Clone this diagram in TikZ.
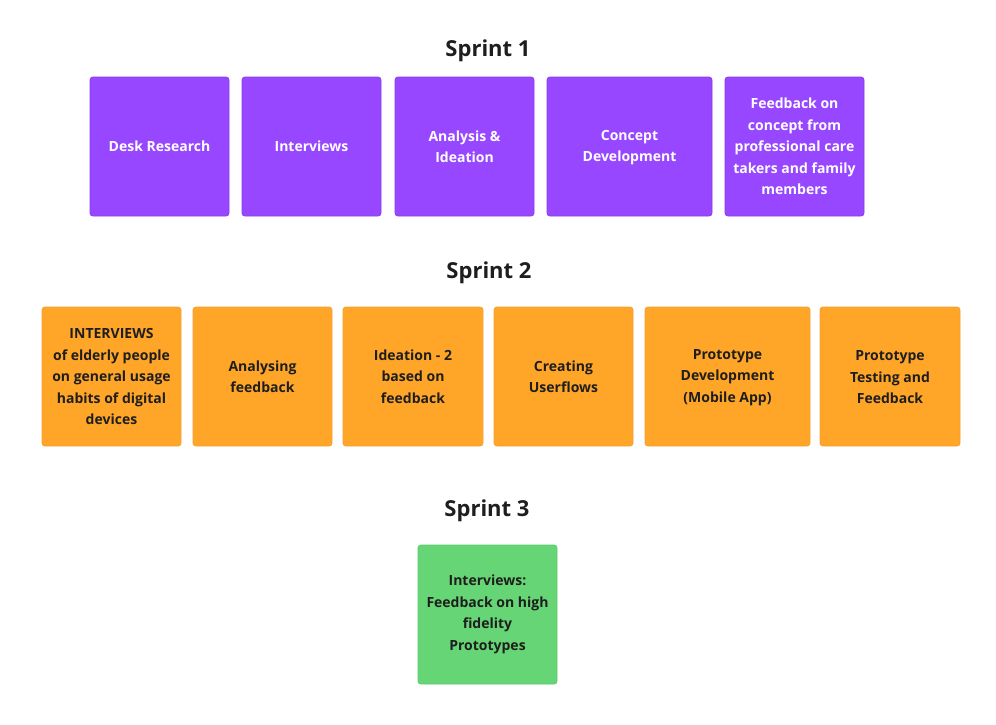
\documentclass[tikz,border=0pt]{standalone}
\usepackage{fontspec}
\setmainfont{Open Sans}
\definecolor{cpurple}{HTML}{9747FF}
\definecolor{cpurpleB}{HTML}{8A3CF0}
\definecolor{corange}{HTML}{FFA629}
\definecolor{corangeB}{HTML}{F5A030}
\definecolor{cgreen}{HTML}{66D575}
\definecolor{cgreenB}{HTML}{5CCB6B}
\definecolor{ctext}{HTML}{1E1E1E}
\tikzset{
  card/.style={rounded corners=3pt, minimum height=139pt, inner sep=0pt, align=center,
    font=\fontsize{14}{21.5}\selectfont\bfseries, line width=0.8pt},
  pcard/.style={card, fill=cpurple, draw=cpurpleB, text=white},
  ocard/.style={card, fill=corange, draw=corangeB, text=ctext},
  gcard/.style={card, fill=cgreen, draw=cgreenB, text=ctext},
  sprinttitle/.style={font=\fontsize{22}{26}\selectfont\bfseries, text=ctext, inner sep=0pt}
}
\begin{document}
\begin{tikzpicture}[x=1pt,y=-1pt]
\useasboundingbox (0,0) rectangle (996,724);
\fill[white] (0,0) rectangle (996,724);
\node[sprinttitle] (s1) at (488,50.5) {Sprint 1};
\node[pcard, minimum width=139pt] (a1) at (159.5,146.5) {Desk Research};
\node[pcard, minimum width=139pt] (a2) at (311.5,146.5) {Interviews};
\node[pcard, minimum width=139pt] (a3) at (464.5,146.5) {Analysis \&\\Ideation};
\node[pcard, minimum width=165pt] (a4) at (629.5,146.5) {\rule{0pt}{12pt}Concept\\Development};
\node[pcard, minimum width=139pt] (a5) at (794.5,146.5) {Feedback on\\concept from\\professional care\\takers and family\\members};
\node[sprinttitle] (s2) at (489,272.5) {Sprint 2};
\node[ocard, minimum width=139pt] (b1) at (111.5,376.5) {INTERVIEWS\\of elderly people\\on general usage\\habits of digital\\devices};
\node[ocard, minimum width=139pt] (b2) at (262.5,376.5) {Analysing\\feedback};
\node[ocard, minimum width=140pt] (b3) at (413,376.5) {Ideation - 2\\based on\\feedback};
\node[ocard, minimum width=139pt] (b4) at (563.5,376.5) {Creating\\Userflows};
\node[ocard, minimum width=165pt] (b5) at (727.5,376.5) {\rule{0pt}{12pt}Prototype\\Development\\(Mobile App)};
\node[ocard, minimum width=140pt] (b6) at (890,376.5) {\rule{0pt}{12pt}Prototype\\Testing and\\Feedback};
\node[sprinttitle] (s3) at (487,510.5) {Sprint 3};
\node[gcard, minimum width=139pt] (c1) at (487.5,614.5) {Interviews:\\Feedback on high\\fidelity\\Prototypes};
\end{tikzpicture}
\end{document}
